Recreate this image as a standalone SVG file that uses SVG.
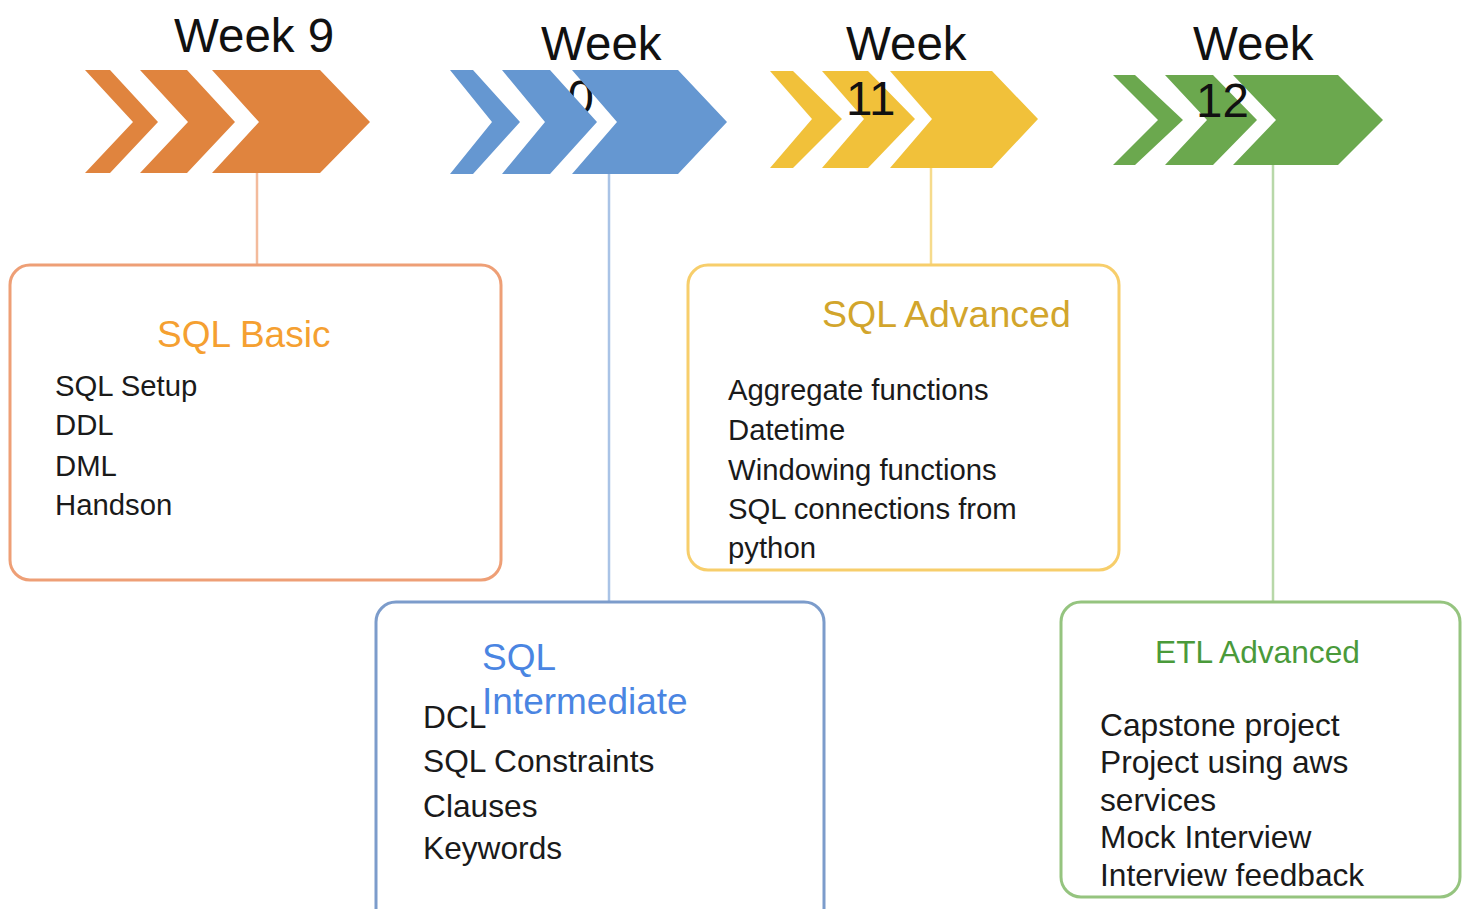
<svg xmlns="http://www.w3.org/2000/svg" width="1468" height="909" viewBox="0 0 1468 909">
<style>
text{font-family:"Liberation Sans",Arial,sans-serif}
.wk{font-size:47.5px;fill:#111}
.it{font-size:29.3px;fill:#1a1a1a}
.it2{font-size:31.7px;fill:#1a1a1a}
.box{fill:#fff;stroke-width:3}
.orange{fill:#E0843E}
.blue{fill:#6597D1}
.yellow{fill:#F1C13A}
.green{fill:#6BA84E}
</style>
<rect width="1468" height="909" fill="#fff"/>
<g id="connectors" fill="none" stroke-width="2.5">
<line x1="257" y1="173" x2="257" y2="265" stroke="#F3BB9C"/>
<line x1="609" y1="174" x2="609" y2="602" stroke="#A9C3E6"/>
<line x1="931" y1="168" x2="931" y2="265" stroke="#F6DB8C"/>
<line x1="1273" y1="165" x2="1273" y2="602" stroke="#B8D8A9"/>
</g>
<g id="week9">
<text class="wk" x="174" y="52">Week 9</text>
<polygon class="orange" points="85,70 110,70 158,122 110,173 85,173 133,122"/>
<polygon class="orange" points="140,70 187,70 235,122 187,173 140,173 188,122"/>
<polygon class="orange" points="212,70 320,70 370,122 320,173 212,173 259,122"/>
</g>
<g id="week10">
<text class="wk" x="541" y="60">Week</text>
<text class="wk" x="541" y="114">10</text>
<polygon class="blue" points="450,70 473,70 520,122 473,174 450,174 492,122"/>
<polygon class="blue" points="502,70 550,70 597,122 550,174 502,174 545,122"/>
<polygon class="blue" points="572,70 678,70 727,122 678,174 572,174 617,122"/>
</g>
<g id="week11">
<text class="wk" x="846" y="60">Week</text>
<polygon class="yellow" points="770,71 793,71 842,119 793,168 770,168 812,119"/>
<polygon class="yellow" points="822,71 868,71 915,119 868,168 822,168 864,119"/>
<polygon class="yellow" points="890,71 992,71 1038,119 992,168 890,168 932,119"/>
<text class="wk" x="846" y="115">11</text>
</g>
<g id="week12">
<text class="wk" x="1193" y="60">Week</text>
<polygon class="green" points="1113,75 1135,75 1183,120 1135,165 1113,165 1158,120"/>
<polygon class="green" points="1165,75 1213,75 1257,120 1213,165 1165,165 1207,120"/>
<polygon class="green" points="1233,75 1338,75 1383,120 1338,165 1233,165 1276,120"/>
<text class="wk" x="1196" y="117">12</text>
</g>
<g id="sql-basic">
<rect class="box" x="10" y="265" width="491" height="315" rx="20" stroke="#EE9F76"/>
<text x="157" y="347" font-size="37" fill="#F5A031">SQL Basic</text>
<text class="it" x="55" y="396">SQL Setup</text>
<text class="it" x="55" y="435">DDL</text>
<text class="it" x="55" y="476">DML</text>
<text class="it" x="55" y="515">Handson</text>
</g>
<g id="sql-advanced">
<rect class="box" x="688" y="265" width="431" height="305" rx="20" stroke="#F7CE6B"/>
<text x="822" y="327" font-size="37.5" fill="#D2A52C">SQL Advanced</text>
<text class="it" x="728" y="400">Aggregate functions</text>
<text class="it" x="728" y="440">Datetime</text>
<text class="it" x="728" y="480">Windowing functions</text>
<text class="it" x="728" y="519">SQL connections from</text>
<text class="it" x="728" y="558">python</text>
</g>
<g id="sql-intermediate">
<rect class="box" x="376" y="602" width="448" height="330" rx="20" stroke="#7C9CCB"/>
<text x="482" y="670" font-size="37" fill="#4A85E2">SQL</text>
<text x="482" y="714" font-size="37" fill="#4A85E2">Intermediate</text>
<text class="it2" x="423" y="728">DCL</text>
<text class="it2" x="423" y="772">SQL Constraints</text>
<text class="it2" x="423" y="817">Clauses</text>
<text class="it2" x="423" y="859">Keywords</text>
</g>
<g id="etl-advanced">
<rect class="box" x="1061" y="602" width="399" height="295" rx="20" stroke="#95C47F"/>
<text x="1155" y="663" font-size="31.7" fill="#4A9A3A">ETL Advanced</text>
<text class="it2" x="1100" y="736">Capstone project</text>
<text class="it2" x="1100" y="773">Project using aws</text>
<text class="it2" x="1100" y="811">services</text>
<text class="it2" x="1100" y="848">Mock Interview</text>
<text class="it2" x="1100" y="886">Interview feedback</text>
</g>
</svg>
